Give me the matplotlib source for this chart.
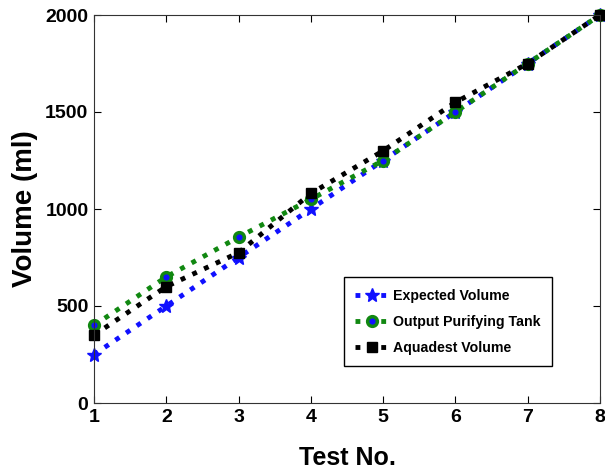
import matplotlib
matplotlib.use("Agg")
import matplotlib.pyplot as plt

tests = [1, 2, 3, 4, 5, 6, 7, 8]
expected = [250, 500, 750, 1000, 1250, 1500, 1750, 2000]
output_tank = [400, 650, 855, 1050, 1250, 1500, 1750, 2000]
aquadest = [350, 600, 775, 1080, 1300, 1550, 1750, 2000]

plt.rcParams['font.family'] = ['Liberation Sans', 'DejaVu Sans']
plt.rcParams['font.weight'] = 'bold'

fig = plt.figure(figsize=(6.05, 4.72), dpi=100)
ax = fig.add_axes([94/605, 1 - 403/472, (600-94)/605, (403-15)/472])

ax.plot(tests, expected, color='#1010ff', linestyle=':', linewidth=3.5,
        marker='*', markersize=10, clip_on=False, label='Expected Volume')
ax.plot(tests, output_tank, color='#118811', linestyle=':', linewidth=3.5,
        marker='o', markersize=7, markerfacecolor='#1010ff', markeredgecolor='#118811',
        markeredgewidth=2.5, clip_on=False, label='Output Purifying Tank')
ax.plot(tests, aquadest, color='black', linestyle=':', linewidth=3.5,
        marker='s', markersize=6.5, clip_on=False, label='Aquadest Volume')

ax.set_xlim(1, 8)
ax.set_ylim(0, 2000)
ax.set_xticks(tests)
ax.set_yticks([0, 500, 1000, 1500, 2000])
ax.tick_params(direction='in', labelsize=14, top=True, right=True, length=5, pad=4)
for lbl in ax.get_xticklabels() + ax.get_yticklabels():
    lbl.set_fontweight('bold')
ax.set_xlabel('Test No.', fontsize=18, fontweight='bold', labelpad=15)
ax.set_ylabel('Volume (ml)', fontsize=20, fontweight='bold', labelpad=5)
for s in ax.spines.values():
    s.set_color('#333333')

leg = ax.legend(loc='lower right', bbox_to_anchor=(0.905, 0.095), fontsize=10.2,
                fancybox=False, edgecolor='black', framealpha=1, handlelength=2.4,
                handletextpad=0.3, labelspacing=0.85, borderpad=0.8, borderaxespad=0)
for t in leg.get_texts():
    t.set_fontweight('bold')

fig.savefig('out.png', dpi=100)
